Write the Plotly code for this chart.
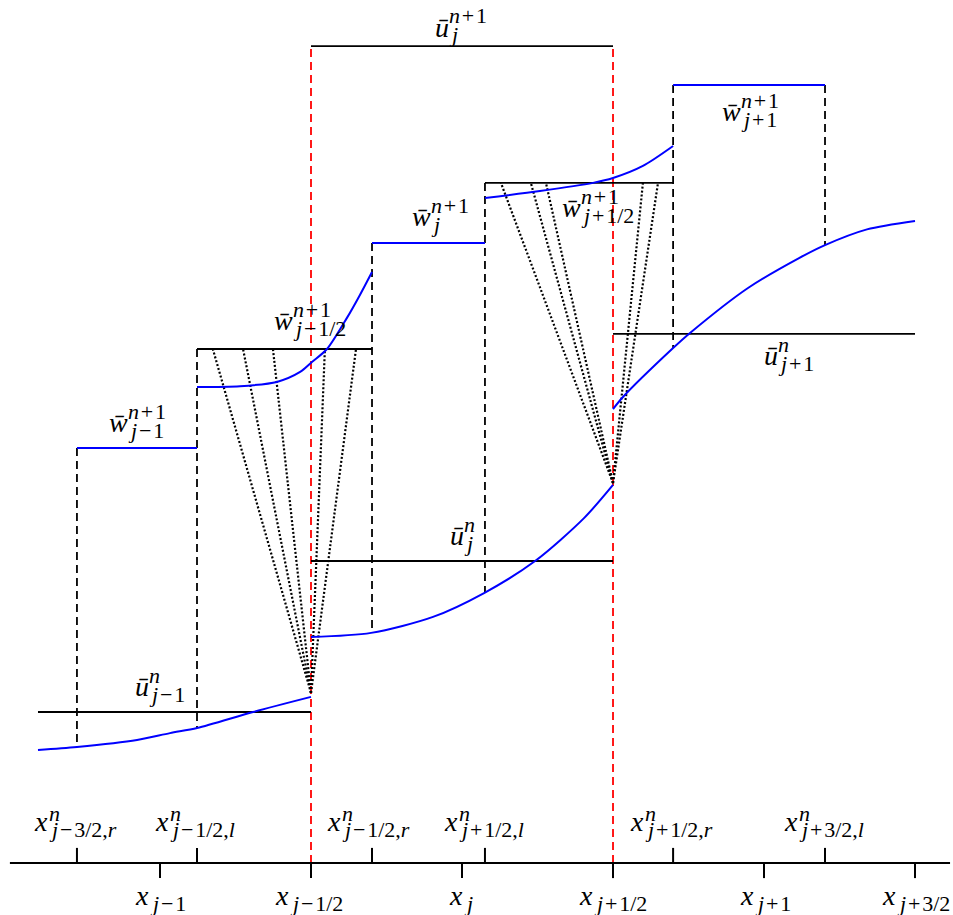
import numpy as np
import plotly.graph_objects as go

# ---------------------------------------------------------------- mesh ----
# cell width is 1; x_{j-1/2} = 0 and x_{j+1/2} = 1
grid_ticks = [-0.5, 0.0, 0.5, 1.0, 1.5, 2.0]
grid_subs = ["j−1", "j−1/2", "j", "j+1/2", "j+1", "j+3/2"]
speed_ticks = [-0.775, -0.3775, 0.202, 0.576, 1.199, 1.702]
speed_subs = ["j−3/2,r", "j−1/2,l", "j−1/2,r", "j+1/2,l", "j+1/2,r", "j+3/2,l"]
axis_extent = [-0.997, 2.116]

# ------------------------------------------------- cell averages at t^n ----
ubar_left = [-0.904, 0.0, 1.0]
ubar_right = [0.0, 1.0, 2.0]
ubar_n = [0.5, 1.0, 1.752]
ubar_new_span = [0.0, 1.0]
ubar_new = 2.705

# ------------------------------------- piecewise reconstruction at t^n ----
rec_jm1_x = [-0.904, -0.775, -0.576, -0.467, -0.377, -0.192, 0.0]
rec_jm1_y = [0.374, 0.384, 0.407, 0.430, 0.447, 0.500, 0.550]
rec_j_x = [0.0, 0.199, 0.404, 0.573, 0.742, 0.904, 1.0]
rec_j_y = [0.748, 0.762, 0.815, 0.894, 1.000, 1.142, 1.252]
rec_jp1_x = [1.0, 1.033, 1.199, 1.255, 1.447, 1.616, 1.702, 1.841, 2.0]
rec_jp1_y = [1.503, 1.543, 1.705, 1.755, 1.904, 2.003, 2.046, 2.098, 2.126]

# ------------------------------- intermediate averages w at t^{n+1} ----
# smooth parts
w_smooth_left = [-0.775, 0.202, 1.199]
w_smooth_right = [-0.3775, 0.576, 1.702]
w_smooth = [1.374, 2.053, 2.576]
# Riemann fans
fan_left = [-0.3775, 0.576]
fan_right = [0.202, 1.199]
fan_avg = [1.702, 2.252]
fan_apex_x = [0.0, 1.0]
fan_apex_y = [0.563, 1.258]
fan_ray_ends = [[-0.325, -0.225, -0.126, 0.046, 0.149],
                [0.629, 0.728, 0.778, 1.099, 1.149]]
# reconstruction of w inside the fans
wrec_jmh_x = [-0.3775, -0.235, -0.113, -0.036, 0.003, 0.053, 0.119, 0.162, 0.202]
wrec_jmh_y = [1.576, 1.579, 1.593, 1.626, 1.659, 1.702, 1.805, 1.881, 1.957]
wrec_jph_x = [0.576, 0.758, 0.934, 1.0, 1.099, 1.199]
wrec_jph_y = [2.202, 2.225, 2.252, 2.268, 2.308, 2.374]

# ------------------------------------------------------------ labels ----
# (left x, centre y, base symbol, superscript, subscript)
labels = [
    (0.404, 2.765, "u", "n+1", "j"),
    (1.354, 2.487, "w", "n+1", "j+1"),
    (0.328, 2.142, "w", "n+1", "j"),
    (0.825, 2.172, "w", "n+1", "j+1/2"),
    (-0.129, 1.798, "w", "n+1", "j−1/2"),
    (-0.675, 1.457, "w", "n+1", "j−1"),
    (-0.589, 0.586, "u", "n", "j−1"),
    (0.454, 1.086, "u", "n", "j"),
    (1.493, 1.682, "u", "n", "j+1"),
]
speed_label_x = [-0.924, -0.523, 0.046, 0.434, 1.050, 1.560]
speed_label_y = 0.136
grid_label_x = [-0.589, -0.126, 0.450, 0.881, 1.414, 1.884]
grid_label_y = -0.106

FONT = "Liberation Serif"
BASE_SIZE = 28
SCRIPT_SIZE = 22
BLUE = "rgb(0,0,255)"
RED = "rgb(255,0,0)"
BLACK = "black"
TICK = 0.05

fig = go.Figure()


def segs(pairs):
    xs, ys = [], []
    for (x0, y0), (x1, y1) in pairs:
        xs += [x0, x1, None]
        ys += [y0, y1, None]
    return xs, ys


def add_lines(pairs, color, width, dash="solid"):
    xs, ys = segs(pairs)
    fig.add_trace(go.Scatter(x=xs, y=ys, mode="lines",
                             line=dict(color=color, width=width, dash=dash),
                             hoverinfo="skip"))


def add_curve(xs, ys, color, width):
    fig.add_trace(go.Scatter(x=xs, y=ys, mode="lines",
                             line=dict(color=color, width=width, shape="spline", smoothing=0.8),
                             hoverinfo="skip"))


def rec_value(x):
    if x < 0:
        return float(np.interp(x, rec_jm1_x, rec_jm1_y))
    if x < 1:
        return float(np.interp(x, rec_j_x, rec_j_y))
    return float(np.interp(x, rec_jp1_x, rec_jp1_y))


# red dashed interfaces x_{j-1/2}, x_{j+1/2}
add_lines([((x, 0.0), (x, ubar_new)) for x in ubar_new_span], RED, 1.8, "8px,5px")

# black dashed verticals at the one-sided speed positions
tops = [w_smooth[0], fan_avg[0], w_smooth[1], fan_avg[1], w_smooth[2], w_smooth[2]]
add_lines([((x, t), (x, rec_value(x))) for x, t in zip(speed_ticks, tops)],
          BLACK, 1.8, "8px,5px")

# dotted fan rays
rays = []
for ax, ay, ends, top in zip(fan_apex_x, fan_apex_y, fan_ray_ends, fan_avg):
    rays += [((ax, ay), (ex, top)) for ex in ends]
add_lines(rays, BLACK, 2.2, "2px,2px")

# cell averages (black)
add_lines([((l, v), (r, v)) for l, r, v in zip(ubar_left, ubar_right, ubar_n)], BLACK, 1.8)
add_lines([((ubar_new_span[0], ubar_new), (ubar_new_span[1], ubar_new))], BLACK, 1.8)
add_lines([((l, v), (r, v)) for l, r, v in zip(fan_left, fan_right, fan_avg)], BLACK, 1.8)

# x-axis and ticks
add_lines([((axis_extent[0], 0.0), (axis_extent[1], 0.0))], BLACK, 2)
add_lines([((x, 0.0), (x, TICK)) for x in speed_ticks], BLACK, 2)
add_lines([((x, 0.0), (x, -TICK)) for x in grid_ticks], BLACK, 2)

# w averages on the smooth parts (blue)
add_lines([((l, v), (r, v)) for l, r, v in zip(w_smooth_left, w_smooth_right, w_smooth)], BLUE, 2)

# reconstructions (blue)
add_curve(rec_jm1_x, rec_jm1_y, BLUE, 2)
add_curve(rec_j_x, rec_j_y, BLUE, 2)
add_curve(rec_jp1_x, rec_jp1_y, BLUE, 2)
add_curve(wrec_jmh_x, wrec_jmh_y, BLUE, 2)
add_curve(wrec_jph_x, wrec_jph_y, BLUE, 2)


HAIR = "\u200a"


def ital(s):
    out = []
    for c in s:
        if c.isalpha():
            out.append(f"<i>{c}</i>")
        elif c in "+−":
            out.append(HAIR + c + HAIR)
        else:
            out.append(c)
    return "".join(out)


BASE_TEXT = {"u": "<i>ū</i>", "w": "<i>w\u0304</i>", "x": "<i>x</i>"}
BASE_W = {"u": 14, "w": 19, "x": 15}


def add_math(x, y, base, sup, sub, sup_dy=11, sub_dy=-8):
    common = dict(xref="x", yref="y", showarrow=False, xanchor="left",
                  yanchor="middle", x=x, y=y)
    fig.add_annotation(text=BASE_TEXT[base],
                       font=dict(family=FONT, size=BASE_SIZE, color=BLACK), **common)
    if sup:
        fig.add_annotation(text=ital(sup), xshift=BASE_W[base], yshift=sup_dy,
                           font=dict(family=FONT, size=SCRIPT_SIZE, color=BLACK), **common)
    if sub:
        fig.add_annotation(text=ital(sub), xshift=BASE_W[base], yshift=sub_dy,
                           font=dict(family=FONT, size=SCRIPT_SIZE, color=BLACK), **common)


for i, (lx, ly, b, sp, sb) in enumerate(labels):
    if i == 0:
        add_math(lx, ly, b, sp, sb, sup_dy=12, sub_dy=-7)
    else:
        add_math(lx, ly, b, sp, sb)
for lx, sb in zip(speed_label_x, speed_subs):
    add_math(lx, speed_label_y, "x", "n", sb, sup_dy=8, sub_dy=-8)
for lx, sb in zip(grid_label_x, grid_subs):
    add_math(lx, grid_label_y, "x", None, sb, sub_dy=-8)

fig.update_layout(
    width=953, height=915,
    margin=dict(l=0, r=0, t=0, b=0),
    paper_bgcolor="white", plot_bgcolor="white",
    showlegend=False,
    xaxis=dict(range=[-1.0298, 2.1258], visible=False, fixedrange=True),
    yaxis=dict(range=[-0.1722, 2.8576], visible=False, fixedrange=True),
)

fig.write_html("out.html", config={"displayModeBar": False})
